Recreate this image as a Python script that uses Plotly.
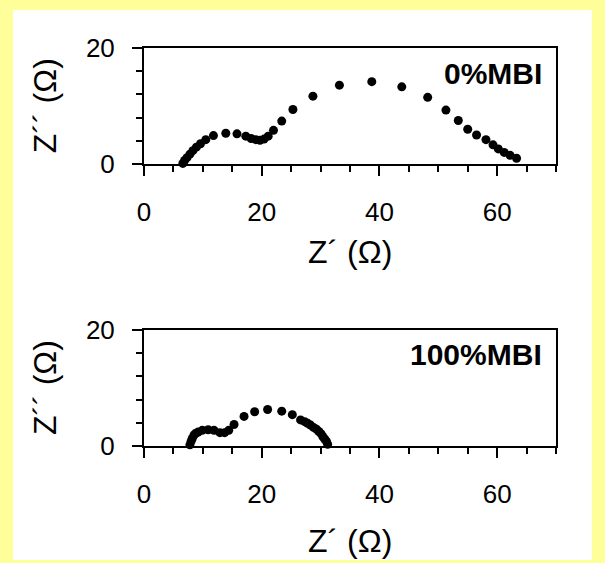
import plotly.graph_objects as go

# 0% MBI Nyquist data (Z' , Z'')
z_re_0 = [6.6, 6.9, 7.3, 7.8, 8.3, 8.9, 9.6, 10.5, 11.8, 13.9, 15.8, 17.3, 18.2, 19.0,
          19.7, 20.4, 21.1, 22.0, 23.4, 25.3, 28.7, 33.2, 38.7, 43.8, 48.2, 51.3, 53.4,
          55.0, 56.5, 58.1, 59.3, 60.2, 61.2, 62.2, 63.3]
z_im_0 = [0.1, 0.6, 1.1, 1.7, 2.3, 2.9, 3.5, 4.2, 4.9, 5.3, 5.2, 4.8, 4.4, 4.2,
          4.1, 4.3, 4.8, 5.8, 7.4, 9.4, 11.7, 13.6, 14.2, 13.3, 11.5, 9.3, 7.5,
          6.0, 5.0, 4.2, 3.3, 2.6, 2.0, 1.5, 1.0]

# 100% MBI Nyquist data
z_re_100 = [7.8, 8.0, 8.2, 8.5, 8.8, 9.2, 9.9, 10.9, 11.9, 12.9, 13.7, 14.4, 15.3, 17.0,
            18.8, 21.0, 23.4, 25.2, 26.6, 27.3, 27.8, 28.3, 28.8, 29.3, 29.7, 30.1, 30.4,
            30.7, 31.0, 31.2]
z_im_100 = [0.2, 0.8, 1.3, 1.9, 2.2, 2.4, 2.7, 2.8, 2.7, 2.3, 2.3, 2.7, 3.7, 5.1,
            5.9, 6.3, 6.0, 5.4, 4.5, 4.2, 3.9, 3.6, 3.2, 2.9, 2.5, 2.1, 1.6,
            1.2, 0.8, 0.3]

labels = ["0%MBI", "100%MBI"]
x_ticks_dtick = 20
y_ticks_dtick = 20

FONT = "Liberation Sans, Arial, sans-serif"
YELLOW = "#FFFF99"

fig = go.Figure()
fig.add_trace(go.Scatter(x=z_re_0, y=z_im_0, mode="markers", xaxis="x", yaxis="y",
                         marker=dict(size=9, color="black"), cliponaxis=False,
                         showlegend=False))
fig.add_trace(go.Scatter(x=z_re_100, y=z_im_100, mode="markers", xaxis="x2", yaxis="y2",
                         marker=dict(size=9, color="black"), cliponaxis=False,
                         showlegend=False))

def xax(anchor):
    return dict(range=[0, 70], dtick=x_ticks_dtick, tick0=0, anchor=anchor,
                showline=True, linecolor="black", linewidth=2, mirror=True,
                ticks="outside", ticklen=10, tickwidth=2, tickcolor="black",
                showgrid=False, zeroline=False, ticklabelstandoff=14,
                tickfont=dict(family=FONT, size=26, color="black"),
                minor=dict(dtick=5, tick0=0, ticks="outside", ticklen=6, tickwidth=1.5,
                           tickcolor="black", showgrid=False))

def yax(anchor, domain):
    return dict(range=[0, 20], dtick=y_ticks_dtick, tick0=0, anchor=anchor, domain=domain,
                showline=True, linecolor="black", linewidth=2, mirror=True,
                ticks="outside", ticklen=10, tickwidth=2, tickcolor="black",
                showgrid=False, zeroline=False, ticklabelstandoff=12,
                tickfont=dict(family=FONT, size=26, color="black"),
                minor=dict(dtick=4, tick0=0, ticks="outside", ticklen=6, tickwidth=1.5,
                           tickcolor="black", showgrid=False))

top_dom = [0.7085, 1.0]
bot_dom = [0.0, 0.2915]

fig.update_layout(
    width=605, height=563,
    margin=dict(l=144, r=49, t=48, b=117, pad=0),
    paper_bgcolor=YELLOW, plot_bgcolor="white",
    xaxis=xax("y"), yaxis=yax("x", top_dom),
    xaxis2=xax("y2"), yaxis2=yax("x2", bot_dom),
    shapes=[dict(type="rect", xref="paper", yref="paper", x0=-0.318, x1=1.087,
                 y0=-0.2864, y1=1.0955, fillcolor="white", line=dict(width=0),
                 layer="below")],
)

ann = []
for lab, xr, yr, ty in [(labels[0], "x", "y", 15.6), (labels[1], "x2", "y2", 15.8)]:
    ann.append(dict(text="<b>%s</b>" % lab, x=68, y=ty, xref=xr, yref=yr,
                    xanchor="right", yanchor="middle", showarrow=False,
                    font=dict(family=FONT, size=30, color="black")))
for dom, ypx in [(top_dom, 0.487), (bot_dom, -0.239)]:
    ann.append(dict(text="Z´ (Ω)", x=0.5, y=ypx, xref="paper", yref="paper",
                    xanchor="center", yanchor="middle", showarrow=False,
                    font=dict(family=FONT, size=32, color="black")))
    ann.append(dict(text="Z´´ (Ω)", x=-0.240, y=(dom[0] + dom[1]) / 2, xref="paper",
                    yref="paper", xanchor="center", yanchor="middle", textangle=-90,
                    showarrow=False, font=dict(family=FONT, size=32, color="black")))
fig.update_layout(annotations=ann)

fig.write_html("out.html", config={"displayModeBar": False},
               post_script="document.body.style.margin='0';document.body.style.overflow='hidden';")
